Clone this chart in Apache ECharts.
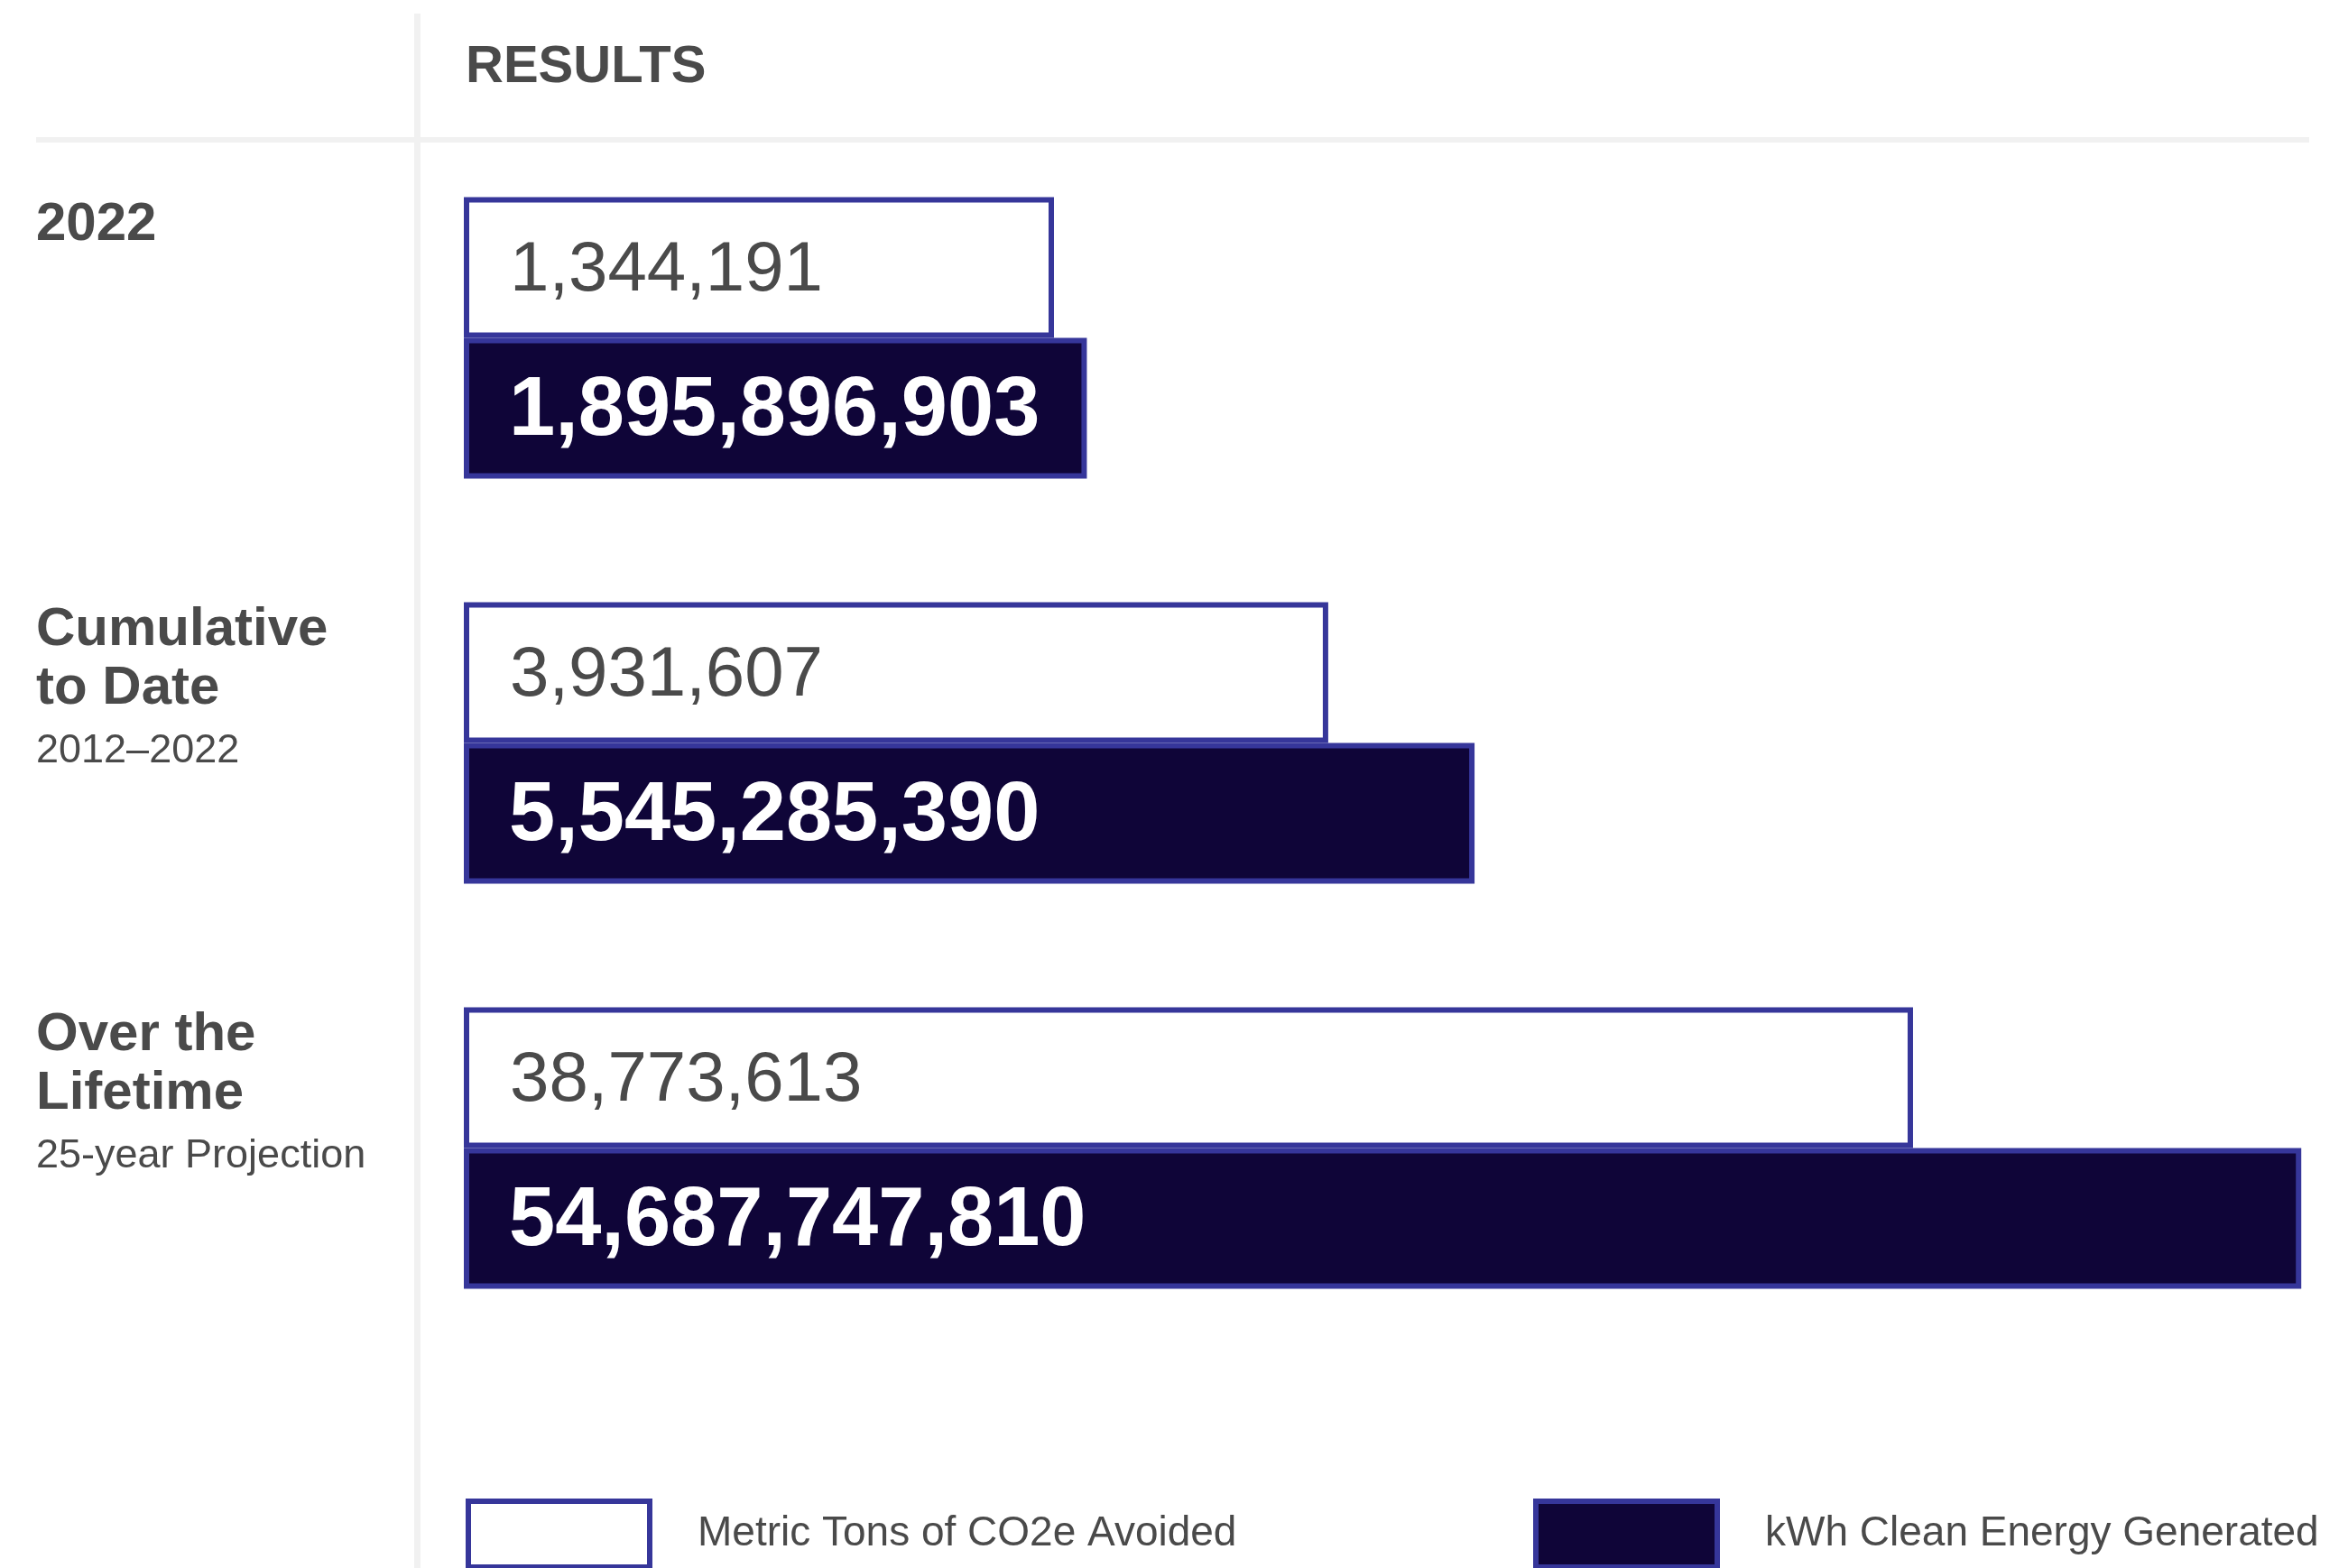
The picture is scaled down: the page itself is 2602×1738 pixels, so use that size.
<!DOCTYPE html>
<html>
<head>
<meta charset="utf-8">
<style>
  html, body { margin: 0; padding: 0; background: #ffffff; }
  #chart { width: 2602px; height: 1738px; }
</style>
<script src="https://cdn.jsdelivr.net/npm/echarts@6/dist/echarts.min.js"></script>
</head>
<body>
<div id="chart"></div>
<script>
// ---- data ----
const categories = ['2022', 'Cumulative\nto Date', 'Over the\nLifetime'];
const subtitles = ['', '2012\u20132022', '25-year Projection'];
const seriesNames = ['Metric Tons of CO2e Avoided', 'kWh Clean Energy Generated'];
const co2Avoided = [1344191, 3931607, 38773613];
const kwhGenerated = [1895896903, 5545285390, 54687747810];
const headerText = 'RESULTS';

// ---- style ----
const FONT = '"Liberation Sans", Arial, Helvetica, sans-serif';
const TEXT = '#4a4a4a';
const BORDER = '#36369a';
const DARK = '#0f0538';
const RULE = '#f1f1f1';

const fmt = v => Number(v).toLocaleString('en-US');

const chart = echarts.init(document.getElementById('chart'), null, { renderer: 'canvas' });

chart.setOption({
  backgroundColor: '#ffffff',
  animation: false,
  title: {
    text: headerText,
    left: 516,
    top: 46,
    padding: 0,
    textStyle: { fontFamily: FONT, fontSize: 58, fontWeight: 'bold', color: TEXT, lineHeight: 58 }
  },
  graphic: [
    { type: 'line', z: 0, shape: { x1: 462.5, y1: 15, x2: 462.5, y2: 1738 }, style: { stroke: RULE, lineWidth: 7 } },
    { type: 'line', z: 0, shape: { x1: 40, y1: 155, x2: 2559, y2: 155 }, style: { stroke: RULE, lineWidth: 6 } }
  ],
  legend: [
    {
      left: 516, top: 1661, padding: 0, orient: 'horizontal',
      data: [seriesNames[0]], icon: 'rect', itemWidth: 201, itemHeight: 73,
      itemStyle: { borderWidth: 6, borderColor: BORDER },
      textStyle: { fontFamily: FONT, fontSize: 46, color: TEXT, padding: [0, 0, 0, 48] },
      selectedMode: false
    },
    {
      left: 1699, top: 1661, padding: 0, orient: 'horizontal',
      data: [seriesNames[1]], icon: 'rect', itemWidth: 201, itemHeight: 73,
      itemStyle: { borderWidth: 6, borderColor: BORDER },
      textStyle: { fontFamily: FONT, fontSize: 46, color: TEXT, padding: [0, 0, 0, 48] },
      selectedMode: false
    }
  ],
  grid: { left: 517, top: 150, width: 2043, height: 1347, containLabel: false },
  xAxis: [
    { type: 'log', logBase: 10, min: 134900, max: 183400000, show: false, position: 'bottom' },
    { type: 'log', logBase: 10, min: 340400000, max: 56040000000, show: false, position: 'top' }
  ],
  yAxis: [
    {
      type: 'category', data: categories, inverse: true,
      axisLine: { show: false }, axisTick: { show: false }, axisLabel: { show: false }, splitLine: { show: false }
    },
    {
      type: 'category', data: categories, inverse: true, boundaryGap: false, min: 0, max: 3,
      position: 'left',
      axisLine: { show: false }, axisTick: { show: false }, splitLine: { show: false },
      axisLabel: {
        interval: 0,
        align: 'left',
        verticalAlign: 'top',
        margin: 477,
        padding: [67, 0, 0, 0],
        formatter: function (value, index) {
          if (index == null || index >= categories.length) return '';
          const lines = categories[index].split('\n').map(l => '{b|' + l + '}');
          if (subtitles[index]) lines.push('{s|' + subtitles[index] + '}');
          return lines.join('\n');
        },
        rich: {
          b: { fontFamily: FONT, fontSize: 60, fontWeight: 'bold', color: TEXT, lineHeight: 65 },
          s: { fontFamily: FONT, fontSize: 45, color: TEXT, lineHeight: 73 }
        }
      }
    }
  ],
  series: [
    {
      name: seriesNames[0],
      type: 'bar',
      xAxisIndex: 0, yAxisIndex: 0,
      data: co2Avoided,
      barWidth: 156,
      barGap: '0%',
      clip: true,
      itemStyle: { color: '#ffffff', borderColor: BORDER, borderWidth: 6 },
      label: {
        show: true, position: 'insideLeft', distance: 51, offset: [0, 4],
        formatter: p => fmt(p.value),
        fontFamily: FONT, fontSize: 78, color: TEXT
      },
      z: 2
    },
    {
      name: seriesNames[1],
      type: 'bar',
      xAxisIndex: 1, yAxisIndex: 0,
      data: kwhGenerated,
      barWidth: 156,
      barGap: '0%',
      clip: true,
      itemStyle: { color: DARK, borderColor: BORDER, borderWidth: 6 },
      label: {
        show: true, position: 'insideLeft', distance: 50, offset: [0, 4],
        formatter: p => fmt(p.value),
        fontFamily: FONT, fontSize: 92, fontWeight: 'bold', color: '#ffffff'
      },
      z: 3
    }
  ]
});
</script>
</body>
</html>
